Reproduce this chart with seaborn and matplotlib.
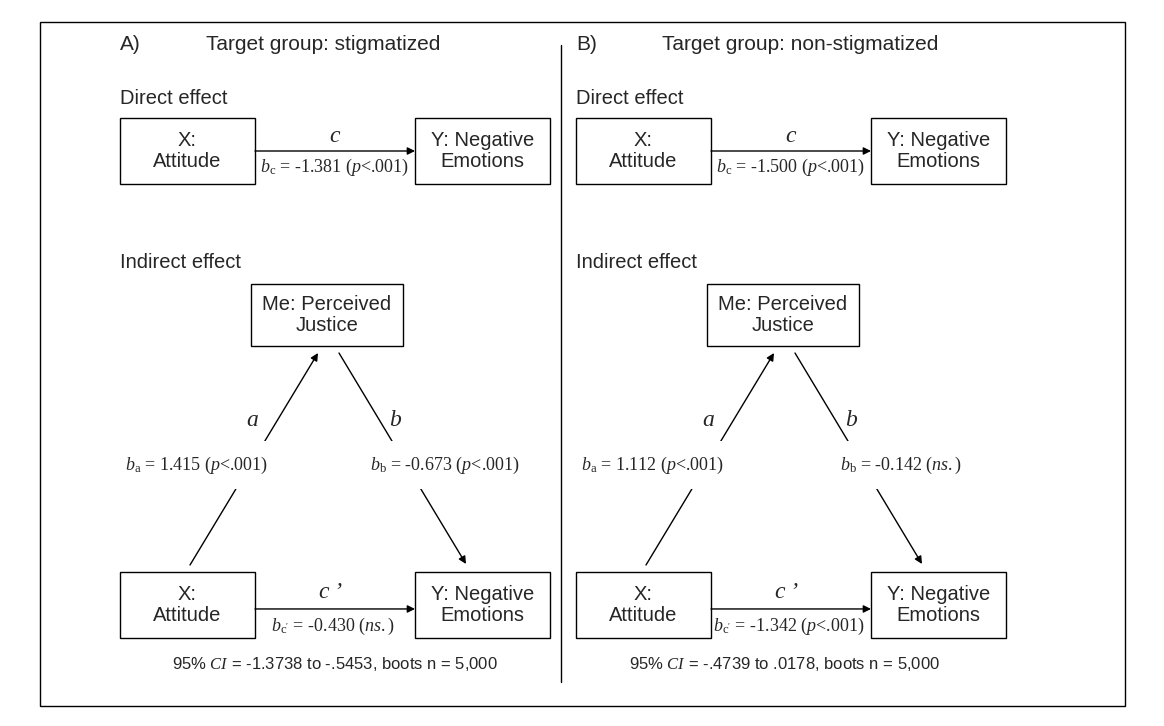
import matplotlib
matplotlib.use("Agg")
import matplotlib.pyplot as plt
from matplotlib.patches import Rectangle
import seaborn as sns

# ---- model content -------------------------------------------------------
panel_letters = ["A)", "B)"]
target_groups = ["stigmatized", "non-stigmatized"]

coef_c = [-1.381, -1.500]          # direct (total) effect X -> Y
sig_c = ["p<.001", "p<.001"]
coef_a = [1.415, 1.112]            # X -> Me
sig_a = ["p<.001", "p<.001"]
coef_b = [-0.673, -0.142]          # Me -> Y
sig_b = ["p<.001", "ns."]
coef_cp = [-0.430, -1.342]         # X -> Y controlling for Me
sig_cp = ["ns.", "p<.001"]

ci_low = [-1.3738, -0.4739]
ci_high = [-0.5453, 0.0178]
boot_n = 5000

node_x = "X:\nAttitude"
node_y = "Y: Negative\nEmotions"
node_me = "Me: Perceived\nJustice"

# ---- style ---------------------------------------------------------------
sns.set_theme(style="white")
plt.rcParams["font.family"] = ["Liberation Sans", "DejaVu Sans"]
plt.rcParams["mathtext.fontset"] = "custom"
plt.rcParams["mathtext.rm"] = "Liberation Serif"
plt.rcParams["mathtext.it"] = "Liberation Serif:italic"

SANS = ["Liberation Sans", "DejaVu Sans"]
SERIF = ["Liberation Serif", "DejaVu Serif"]
LW = 1.0
FS_TITLE, FS_HEAD, FS_NODE, FS_COEF, FS_PATH, FS_CI = 15, 14.5, 14.5, 13, 17, 12

fig = plt.figure(figsize=(11.64, 7.26), dpi=100)
ax = fig.add_axes([0, 0, 1, 1])
ax.set_xlim(0, 1164)
ax.set_ylim(726, 0)
ax.axis("off")


def fmt_ci(v):
    s = f"{v:.4f}"
    return s.replace("0.", ".", 1) if abs(v) < 1 else s


def sig_tex(s):
    if s.startswith("p"):
        return r"($\mathit{p}$" + s[1:] + ")"
    return r"($\mathit{" + s + "}$)"


def coef_label(sub, value, sig):
    return r"$\mathit{b}_{\mathrm{" + sub + "}}$ = " + f"{value:.3f} " + sig_tex(sig)


def box(x0, y0, w, h, label):
    ax.add_patch(Rectangle((x0, y0), w, h, fill=False, ec="black", lw=LW, zorder=2))
    ax.text(x0 + w / 2, y0 + h / 2, label, ha="center", va="center",
            fontsize=FS_NODE, family=SANS, linespacing=1.12, zorder=3)


def arrow(p0, p1):
    ax.annotate("", xy=p1, xytext=p0,
                arrowprops=dict(arrowstyle="-|>", lw=LW, color="black",
                                mutation_scale=11, shrinkA=0, shrinkB=0),
                zorder=1)


# outer frame and panel divider
ax.add_patch(Rectangle((40, 22), 1085, 684, fill=False, ec="black", lw=LW))
ax.plot([561, 561], [45, 682], color="black", lw=LW)

BW, BH = 135, 66          # X / Y node size
MW, MH = 152, 62          # mediator node size

for i in range(2):
    dx = 456 * i
    xl = 120 + dx           # left node
    xr = 415 + dx           # right node
    xm = 251 + dx           # mediator

    ax.text(120 + dx, 44, panel_letters[i], fontsize=FS_TITLE, family=SANS, va="center")
    ax.text(206 + dx, 44, "Target group: " + target_groups[i], fontsize=FS_TITLE,
            family=SANS, va="center")

    # direct effect
    ax.text(120 + dx, 98, "Direct effect", fontsize=FS_HEAD, family=SANS, va="center")
    top_y = 118
    box(xl, top_y, BW, BH, node_x)
    box(xr, top_y, BW, BH, node_y)
    yc = top_y + BH / 2
    arrow((xl + BW, yc), (xr, yc))
    mid = (xl + BW + xr) / 2
    ax.text(mid, yc - 14, "c", fontsize=FS_PATH, family=SERIF, style="italic",
            ha="center", va="center")
    ax.text(mid, yc + 16, coef_label("c", coef_c[i], sig_c[i]), fontsize=FS_COEF,
            family=SERIF, ha="center", va="center")

    # indirect effect
    ax.text(120 + dx, 263, "Indirect effect", fontsize=FS_HEAD, family=SANS, va="center")
    me_y = 284
    box(xm, me_y, MW, MH, node_me)
    bot_y = 572
    box(xl, bot_y, BW, BH, node_x)
    box(xr, bot_y, BW, BH, node_y)

    # path a: X -> Me
    a0 = (xl + 70, bot_y - 7)
    a1 = (xm + 67, me_y + MH + 7)
    arrow(a0, a1)
    ax.text(xm + 1, 420, "a", fontsize=FS_PATH, family=SERIF, style="italic",
            ha="center", va="center")
    ax.text(xl + 77, 465, coef_label("a", coef_a[i], sig_a[i]), fontsize=FS_COEF,
            family=SERIF, ha="center", va="center", zorder=3,
            bbox=dict(fc="white", ec="none", pad=10))

    # path b: Me -> Y
    b0 = (xm + 88, me_y + MH + 7)
    b1 = (xr + 51, bot_y - 8)
    arrow(b0, b1)
    ax.text(xm + 144, 420, "b", fontsize=FS_PATH, family=SERIF, style="italic",
            ha="center", va="center")
    ax.text(xr + 30, 465, coef_label("b", coef_b[i], sig_b[i]), fontsize=FS_COEF,
            family=SERIF, ha="center", va="center", zorder=3,
            bbox=dict(fc="white", ec="none", pad=10))

    # path c'
    yc = bot_y + 0.56 * BH
    arrow((xl + BW, yc), (xr, yc))
    mid = (xl + BW + xr) / 2
    ax.text(mid - 4, yc - 16, "c\u2009\u2019", fontsize=FS_PATH, family=SERIF,
            style="italic", ha="center", va="center")
    ax.text(mid - 2, yc + 17, coef_label(r"c^{\prime}", coef_cp[i], sig_cp[i]),
            fontsize=FS_COEF, family=SERIF, ha="center", va="center")

    # bootstrap confidence interval for the indirect effect
    ax.text(335 + 450 * i, 664,
            r"95% $\mathit{CI}$ = " + f"{fmt_ci(ci_low[i])} to {fmt_ci(ci_high[i])}, boots n = {boot_n:,}",
            fontsize=FS_CI, family=SANS, ha="center", va="center")

fig.savefig("out.png", dpi=100, facecolor="white")
